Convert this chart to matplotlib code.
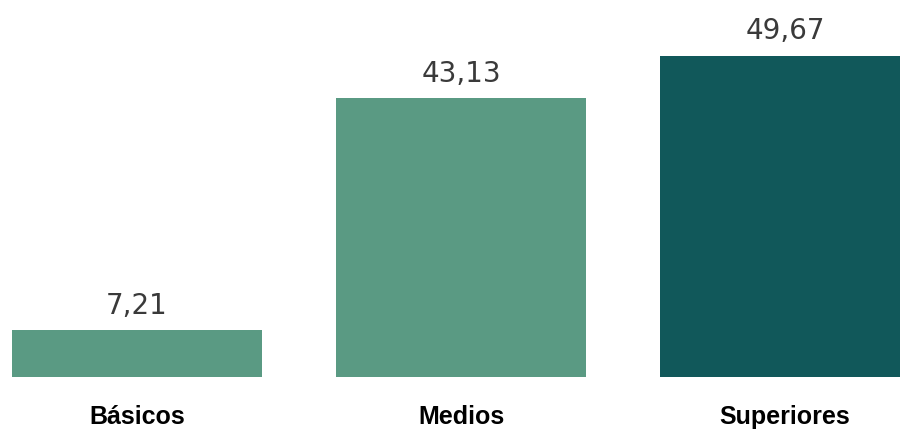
import matplotlib
matplotlib.use('Agg')
import matplotlib.pyplot as plt

plt.rcParams['font.family'] = ['Liberation Sans', 'DejaVu Sans']

# niveles de estudios y porcentajes
niveles = ['Básicos', 'Medios', 'Superiores']
valores = [7.21, 43.13, 49.67]
colores = ['#5a9a83', '#5a9a83', '#11585a']

fig = plt.figure(figsize=(9, 4.32), dpi=100)
ax = fig.add_axes([0, 55 / 432, 1, 377 / 432])

pos = range(len(niveles))
barras = ax.bar(pos, valores, width=250 / 324, color=colores)

for b, v in zip(barras, valores):
    ax.annotate(f'{v:.2f}'.replace('.', ','),
                (b.get_x() + b.get_width() / 2, v),
                xytext=(0, 12), textcoords='offset points',
                ha='center', va='baseline', fontsize=20, color='#3a3a3a',
                family='DejaVu Sans')

ax.set_xlim(-137 / 324, 763 / 324)
ax.set_ylim(0, 58.33)
ax.set_xticks(list(pos))
ax.set_xticklabels(niveles, fontsize=18, fontweight='bold', color='black')
ax.tick_params(axis='x', length=0, pad=20)
ax.set_yticks([])
for s in ax.spines.values():
    s.set_visible(False)

fig.savefig('out.png', dpi=100)
